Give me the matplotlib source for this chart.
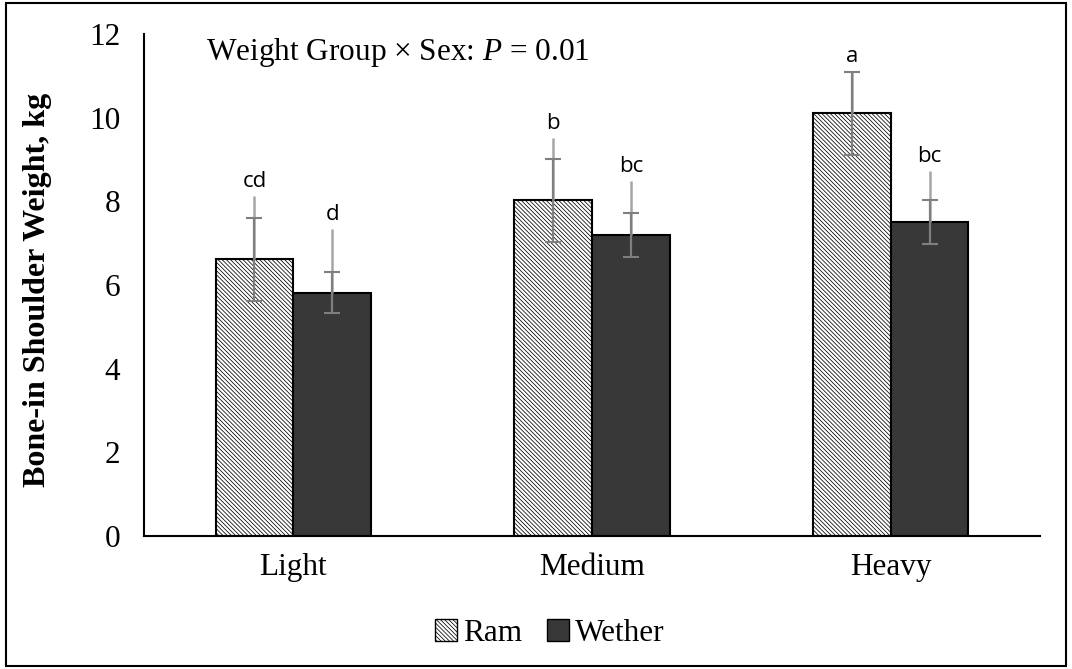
import numpy as np
import matplotlib
matplotlib.use("Agg")
import matplotlib.pyplot as plt
from matplotlib.patches import Patch, Rectangle

# data
groups = ["Light", "Medium", "Heavy"]
ram = [6.61, 8.02, 10.10]
wether = [5.82, 7.20, 7.50]
ram_se = [1.0, 1.0, 1.0]
wether_se = [0.5, 0.52, 0.52]
# upper whisker (to letters) above the mean
ram_hi = [1.52, 1.50, 1.02]
wether_hi = [1.51, 1.29, 1.23]
ram_letters = ["cd", "b", "a"]
wether_letters = ["d", "bc", "bc"]

plt.rcParams["hatch.color"] = "#b4b4b4"
plt.rcParams["hatch.linewidth"] = 0.55
plt.rcParams["mathtext.fontset"] = "custom"
plt.rcParams["mathtext.it"] = "Liberation Serif:italic"
plt.rcParams["mathtext.rm"] = "Liberation Serif"

serif = "Liberation Serif"
hatch = "\\" * 8

fig = plt.figure(figsize=(10.72, 6.69), dpi=100)
ax = fig.add_axes([0.1343, 0.1988, 0.836, 0.7504])

x = np.arange(len(groups))
w = 0.26

ax.bar(x - w / 2, ram, w, color="white", edgecolor="black", linewidth=1.5,
       hatch=hatch, label="Ram", zorder=2)
ax.bar(x + w / 2, wether, w, color="#383838", edgecolor="black", linewidth=1.5,
       label="Wether", zorder=2)

# long light whisker up to the letters
for xs, vals, hi in [(x - w / 2, ram, ram_hi), (x + w / 2, wether, wether_hi)]:
    ax.errorbar(xs, vals, yerr=[np.zeros(len(vals)), hi], fmt="none",
                ecolor="#a6a6a6", elinewidth=1.8, capsize=0, zorder=3)
# standard error bars with caps
ax.errorbar(x - w / 2, ram, yerr=ram_se, fmt="none", ecolor="#7f7f7f",
            elinewidth=1.6, capsize=6, capthick=1.5, zorder=4)
ax.errorbar(x + w / 2, wether, yerr=wether_se, fmt="none", ecolor="#7f7f7f",
            elinewidth=1.6, capsize=6, capthick=1.5, zorder=4)

for i in range(len(groups)):
    top_r = ram[i] + max(ram_hi[i], ram_se[i])
    top_w = wether[i] + max(wether_hi[i], wether_se[i])
    ax.text(x[i] - w / 2, top_r + 0.1, ram_letters[i], ha="center", va="bottom",
            fontsize=16, family="Open Sans")
    ax.text(x[i] + w / 2, top_w + 0.1, wether_letters[i], ha="center", va="bottom",
            fontsize=16, family="Open Sans")

ax.set_ylim(0, 12)
ax.set_xlim(-0.5, 2.5)
ax.set_yticks(range(0, 13, 2))
ax.set_xticks(x)
ax.set_xticklabels(groups)
ax.tick_params(axis="x", length=0, labelsize=22.5, pad=12)
ax.tick_params(axis="y", length=0, labelsize=22.5, pad=17)
for lab in ax.get_xticklabels() + ax.get_yticklabels():
    lab.set_family(serif)
ax.spines["top"].set_visible(False)
ax.spines["right"].set_visible(False)
ax.spines["left"].set_linewidth(1.5)
ax.spines["bottom"].set_linewidth(1.5)

ax.set_ylabel("Bone-in Shoulder Weight, kg", fontsize=23, fontweight="bold",
              family=serif)
ax.yaxis.set_label_coords(-0.103, 0.49)

ax.text(0.069, 0.964, "Weight Group \u00d7 Sex: $\\it{P}$ = 0.01", transform=ax.transAxes,
        fontsize=22.5, family=serif, va="center", ha="left")

handles = [Patch(facecolor="white", edgecolor="black", hatch=hatch, label="Ram"),
           Patch(facecolor="#383838", edgecolor="black", label="Wether")]
fig.legend(handles=handles, loc="center", bbox_to_anchor=(0.513, 0.053), ncol=2,
           frameon=False, prop={"family": serif, "size": 22.5},
           handlelength=0.7, handleheight=0.7, handletextpad=0.2, columnspacing=0.8)

fig.patches.append(Rectangle((0.006, 0.005), 0.988, 0.99, transform=fig.transFigure,
                             fill=False, edgecolor="black", linewidth=1.5))

fig.savefig("out.png", dpi=100)
